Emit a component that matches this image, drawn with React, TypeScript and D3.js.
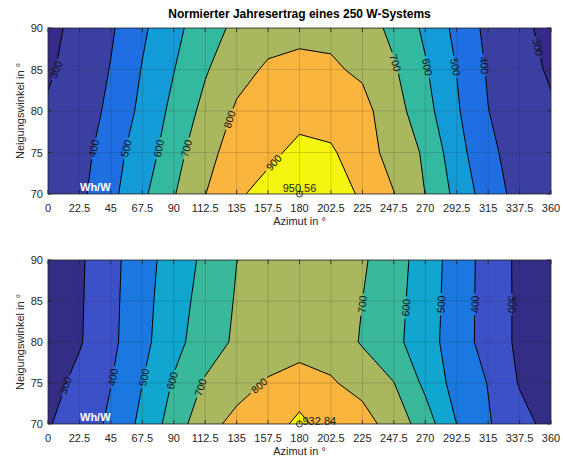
import React from "react";
import * as d3 from "d3";

// grid: azimuth columns x tilt rows
const azimuths = [0, 22.5, 45, 67.5, 90, 112.5, 135, 157.5, 180, 202.5, 225, 247.5, 270, 292.5, 315, 337.5, 360];
const tilts = [70, 75, 80, 85, 90];
const levels = [300, 400, 500, 600, 700, 800, 900];
const xTickLabels = ["0", "22.5", "45", "67.5", "90", "112.5", "135", "157.5", "180", "202.5", "225", "247.5", "270", "292.5", "315", "337.5", "360"];
const yTickLabels = ["70", "75", "80", "85", "90"];

// upper chart, Wh/W per tilt row
const upper70 = [330, 376, 474, 579, 693, 798, 885, 935, 950.56, 935, 890, 803, 699, 573, 448, 367, 330];
const upper75 = [320, 350, 470, 537, 666, 760, 855, 878, 925, 912, 848, 760, 687, 537, 425, 352, 320];
const upper80 = [308, 333, 428, 523, 626, 729, 812, 842, 868, 860, 830, 743, 636, 512, 402, 340, 308];
const upper85 = [292, 325, 405, 505, 597, 690, 770, 812, 815, 812, 785, 712, 610, 498, 389, 325, 292];
const upper90 = [285, 316, 387, 483, 574, 652, 724, 765, 785, 780, 752, 673, 582, 474, 374, 312, 285];

// lower chart
const lower70 = [293, 345, 418, 525, 644, 770, 825, 834, 932.84, 834, 835, 762, 649, 499, 408, 336, 266];
const lower75 = [260, 329, 398, 499, 609, 711, 768, 808, 823, 808, 772, 702, 578, 461, 397, 293, 250];
const lower80 = [235, 291, 377, 471, 571, 648, 717, 755, 777, 765, 690, 626, 543, 449, 362, 280, 230];
const lower85 = [232, 288, 374, 466, 558, 635, 708, 745, 763, 755, 700, 633, 549, 451, 362, 280, 230];
const lower90 = [230, 285, 370, 461, 544, 621, 699, 735, 750, 745, 713, 641, 555, 454, 363, 279, 230];

// contour labels: level, tilt where it sits, which crossing
const upperLabels: [number, number, string][] = [
  [300, 85, "first"], [400, 75.5, "first"], [500, 75.5, "first"], [600, 75.5, "first"],
  [700, 75.5, "first"], [800, 79, "first"], [900, 73.8, "first"],
  [700, 85.8, "last"], [600, 85.3, "last"], [500, 85.3, "last"], [400, 85.5, "last"], [300, 87.7, "last"],
];
const lowerLabels: [number, number, string][] = [
  [300, 74.7, "first"], [400, 75.7, "first"], [500, 75.7, "first"], [600, 75.3, "first"],
  [700, 74.5, "first"], [800, 74.7, "first"],
  [700, 84.6, "last"], [600, 84.2, "last"], [500, 84.6, "last"], [400, 84.6, "last"], [300, 84.6, "last"],
];

const upperColors = ["#352a87", "#3b3fa2", "#1f6fe2", "#139bd8", "#33b99f", "#a9b85f", "#f9b53d", "#f6f50f"];
const lowerColors = ["#332d86", "#3c51c8", "#1b78e0", "#10a6cf", "#39b99a", "#a9b85f", "#f9b53d", "#f6f50f"];

const W = 563;
const H = 463;
const plotLeft = 48;
const plotRight = 551;
const FONT = '"Liberation Sans", Arial, Helvetica, sans-serif';
const AX = "#262626";

function Panel({ id, rows, top, bottom, colors, labelSpecs, peakBelow }: any) {
  const nx = azimuths.length;
  const ny = tilts.length;
  const x = d3.scaleLinear().domain([azimuths[0], azimuths[nx - 1]]).range([plotLeft, plotRight]);
  const y = d3.scaleLinear().domain([tilts[0], tilts[ny - 1]]).range([bottom, top]);
  // d3.contours puts sample i at grid coordinate i + 0.5
  const gx = d3.scaleLinear().domain([0.5, nx - 0.5]).range([x(azimuths[0]), x(azimuths[nx - 1])]);
  const gy = d3.scaleLinear().domain([0.5, ny - 0.5]).range([y(tilts[0]), y(tilts[ny - 1])]);

  const values: number[] = rows.flat();
  const bands = d3.contours().size([nx, ny]).thresholds(levels)(values);
  const path = d3.geoPath(
    d3.geoTransform({
      point(px: number, py: number) {
        (this as any).stream.point(gx(px), gy(py));
      },
    })
  );

  const fs = 10.5;
  const labels = labelSpecs.map(([level, tilt, which]: any) => {
    const band = bands.find((b) => b.value === level);
    const yp = y(tilt);
    const hits: { x: number; a: number }[] = [];
    band!.coordinates.forEach((poly) =>
      poly.forEach((ring) => {
        for (let i = 0; i < ring.length - 1; i++) {
          const x0 = gx(ring[i][0]), y0 = gy(ring[i][1]);
          const x1 = gx(ring[i + 1][0]), y1 = gy(ring[i + 1][1]);
          if (y0 === y1 || (y0 - yp) * (y1 - yp) > 0) continue;
          const t = (yp - y0) / (y1 - y0);
          const xx = x0 + t * (x1 - x0);
          if (xx < plotLeft + 1 || xx > plotRight - 1) continue;
          let a = (Math.atan2(y1 - y0, x1 - x0) * 180) / Math.PI;
          while (a > 90) a -= 180;
          while (a <= -90) a += 180;
          hits.push({ x: xx, a });
        }
      })
    );
    hits.sort((p, q) => p.x - q.x);
    const h = which === "first" ? hits[0] : hits[hits.length - 1];
    return { text: String(level), x: h ? h.x : 0, y: yp, a: h ? h.a : 0 };
  });

  const iMax = d3.maxIndex(values);
  const peakX = x(azimuths[iMax % nx]);
  const peakY = y(tilts[Math.floor(iMax / nx)]);
  const peakText = values[iMax].toFixed(2);

  const clipId = `clip-${id}`;
  const maskId = `mask-${id}`;
  const tickLen = 4;

  return (
    <g>
      <defs>
        <clipPath id={clipId}>
          <rect x={plotLeft} y={top} width={plotRight - plotLeft} height={bottom - top} />
        </clipPath>
        <mask id={maskId} maskUnits="userSpaceOnUse" x={0} y={0} width={W} height={H}>
          <rect x={0} y={0} width={W} height={H} fill="#fff" />
          {labels.map((l: any, i: number) => {
            const w = l.text.length * fs * 0.56 + 5;
            return (
              <rect key={i} x={-w / 2} y={-fs / 2 - 1} width={w} height={fs + 2} fill="#000"
                transform={`translate(${l.x},${l.y}) rotate(${l.a})`} />
            );
          })}
        </mask>
      </defs>

      <g clipPath={`url(#${clipId})`}>
        <rect x={plotLeft} y={top} width={plotRight - plotLeft} height={bottom - top} fill={colors[0]} />
        {bands.map((b, i) => (
          <path key={i} d={path(b as any) || ""} fill={colors[i + 1]} fillRule="evenodd" />
        ))}
        <g mask={`url(#${maskId})`}>
          {bands.map((b, i) => (
            <path key={i} d={path(b as any) || ""} fill="none" stroke="#000" strokeWidth={1} strokeLinejoin="round" />
          ))}
        </g>
        {/* grid */}
        {azimuths.map((a, i) => (
          <line key={"gx" + i} x1={x(a)} x2={x(a)} y1={top} y2={bottom} stroke={AX} strokeOpacity={0.18} />
        ))}
        {tilts.map((t, i) => (
          <line key={"gy" + i} x1={plotLeft} x2={plotRight} y1={y(t)} y2={y(t)} stroke={AX} strokeOpacity={0.18} />
        ))}
      </g>

      {labels.map((l: any, i: number) => (
        <text key={i} transform={`translate(${l.x},${l.y}) rotate(${l.a})`} textAnchor="middle"
          dominantBaseline="central" fontSize={fs} fill="#111">{l.text}</text>
      ))}

      <circle cx={peakX} cy={peakY} r={3} fill="none" stroke="#333" strokeWidth={1} />
      {peakBelow ? (
        <text x={peakX + 3} y={peakY + 1} fontSize={11} fill="#222">{peakText}</text>
      ) : (
        <text x={peakX} y={peakY - 2} fontSize={11} fill="#222" textAnchor="middle">{peakText}</text>
      )}

      <text x={plotLeft + 32} y={bottom - 3} fontSize={11} fontWeight="bold" fill="#fff">Wh/W</text>

      {/* axes box and ticks */}
      <rect x={plotLeft} y={top} width={plotRight - plotLeft} height={bottom - top} fill="none" stroke={AX} strokeWidth={0.8} />
      {azimuths.map((a, i) => (
        <g key={"tx" + i}>
          <line x1={x(a)} x2={x(a)} y1={bottom} y2={bottom - tickLen} stroke={AX} strokeWidth={0.8} />
          <line x1={x(a)} x2={x(a)} y1={top} y2={top + tickLen} stroke={AX} strokeWidth={0.8} />
          <text x={x(a)} y={bottom + 18} textAnchor="middle" fontSize={11} fill={AX}>{xTickLabels[i]}</text>
        </g>
      ))}
      {tilts.map((t, i) => (
        <g key={"ty" + i}>
          <line x1={plotLeft} x2={plotLeft + tickLen} y1={y(t)} y2={y(t)} stroke={AX} strokeWidth={0.8} />
          <line x1={plotRight} x2={plotRight - tickLen} y1={y(t)} y2={y(t)} stroke={AX} strokeWidth={0.8} />
          <text x={plotLeft - 5} y={y(t)} textAnchor="end" dominantBaseline="central" fontSize={11} fill={AX}>{yTickLabels[i]}</text>
        </g>
      ))}
      <text x={(plotLeft + plotRight) / 2} y={bottom + 31} textAnchor="middle" fontSize={11} fill={AX}>Azimut in °</text>
      <text transform={`translate(24,${(top + bottom) / 2}) rotate(-90)`} textAnchor="middle" fontSize={11} fill={AX}>
        Neigungswinkel in °
      </text>
    </g>
  );
}

export default function App() {
  return (
    <svg width={W} height={H} style={{ position: "absolute", left: 0, top: 0, display: "block" }} fontFamily={FONT}>
      <rect width={W} height={H} fill="#fff" />
      <text x={(plotLeft + plotRight) / 2} y={18} textAnchor="middle" fontWeight="bold" fontSize={12} fill="#000">
        Normierter Jahresertrag eines 250 W-Systems
      </text>
      <Panel id="u" rows={[upper70, upper75, upper80, upper85, upper90]} top={28} bottom={194}
        colors={upperColors} labelSpecs={upperLabels} peakBelow={false} />
      <Panel id="l" rows={[lower70, lower75, lower80, lower85, lower90]} top={260} bottom={424}
        colors={lowerColors} labelSpecs={lowerLabels} peakBelow={true} />
    </svg>
  );
}
